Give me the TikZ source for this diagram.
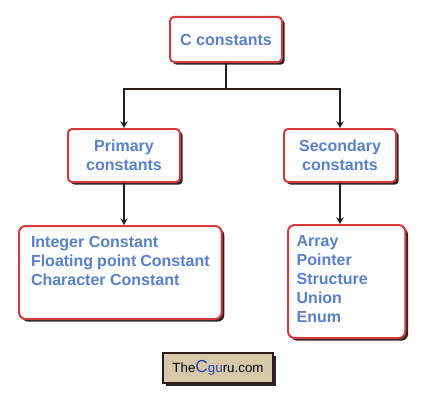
\documentclass[tikz,border=0pt]{standalone}
\usepackage{fontspec}
\setmainfont{Liberation Sans}
\usetikzlibrary{arrows.meta,shadows}
\definecolor{boxred}{RGB}{214,58,58}
\definecolor{txtblue}{RGB}{88,128,204}
\definecolor{linedark}{RGB}{45,28,28}
\definecolor{logotan}{RGB}{214,201,170}
\definecolor{logoblue}{RGB}{40,70,180}

\begin{document}
\begin{tikzpicture}[x=0.75pt,y=-0.75pt,>=Stealth,
    boxshadow/.style={drop shadow={shadow xshift=2pt,shadow yshift=-2pt,fill=black!85,opacity=1}},
    box/.style={rectangle, rounded corners=3pt, draw=boxred, line width=1.5pt, fill=white, text=txtblue, font=\bfseries\fontsize{12}{14.25}\selectfont, align=center, boxshadow},
    listbox/.style={box, rounded corners=5pt, inner ysep=8pt, align=left},
    logo/.style={rectangle, draw=linedark, line width=0.9pt, fill=logotan, font=\fontsize{10}{12}\selectfont, minimum width=82.5pt, minimum height=22.5pt, boxshadow},
    conn/.style={draw=linedark, line width=1.6pt, -{Stealth[length=5pt,width=5.5pt]}}]
    \useasboundingbox (0,0) rectangle (434,410);

    \node[box, minimum width=84pt, minimum height=33.75pt] (cconst) at (226,39.5) {C constants};
    \node[box, minimum width=84pt, minimum height=39.75pt] (prim) at (124,155.5) {Primary\\constants};
    \node[box, minimum width=84pt, minimum height=39.75pt] (sec) at (340,155.5) {Secondary\\constants};

    \node[listbox, inner xsep=9pt, anchor=north west] (primlist) at (18,225)
        {\parbox[b][53.75pt][t]{134pt}{Integer Constant\\Floating point Constant\\Character Constant}};
    \node[listbox, inner xsep=6.5pt, anchor=north west] (seclist) at (287,224)
        {\parbox[b][68.75pt][t]{75pt}{Array\\Pointer\\Structure\\Union\\Enum}};

    \node[logo] (guru) at (218,368) {The{\color{logoblue}\fontsize{13}{13}\selectfont C}{\color{logoblue}gu}ru.com};

    \draw[conn] (cconst.south) -- ++(0,26) -| (prim.north);
    \draw[conn] (cconst.south) -- ++(0,26) -| (sec.north);
    \draw[conn] (prim.south) -- (prim.south |- primlist.north);
    \draw[conn] (sec.south) -- (sec.south |- seclist.north);
\end{tikzpicture}
\end{document}
